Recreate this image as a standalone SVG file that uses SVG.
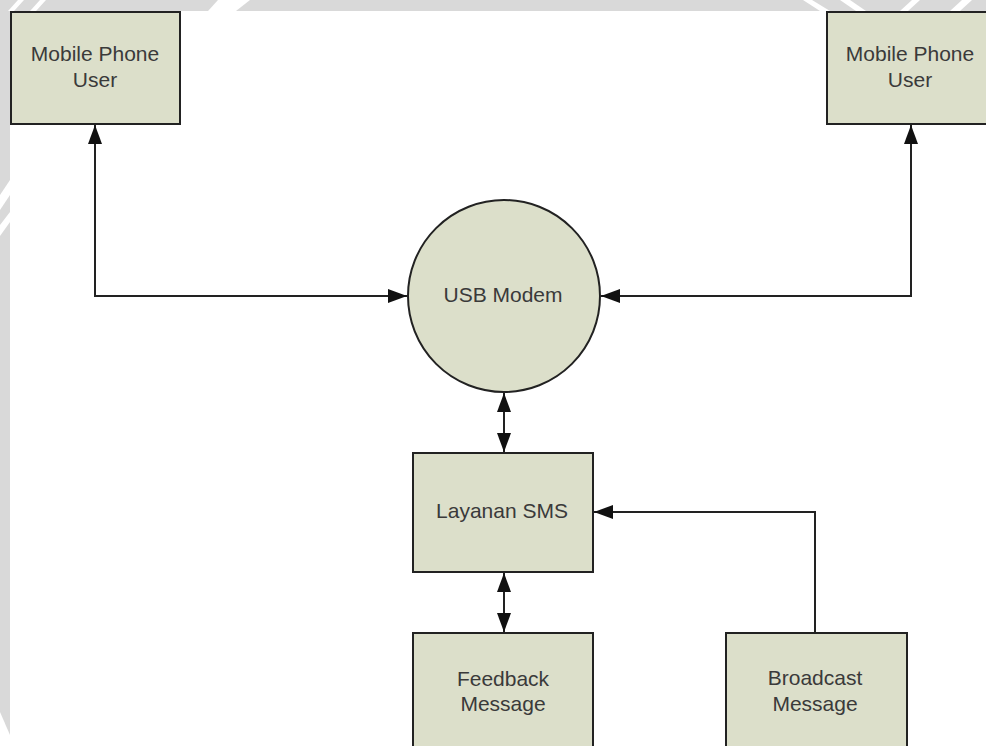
<svg xmlns="http://www.w3.org/2000/svg" width="986" height="746" viewBox="0 0 986 746">
  <style>
    .node { fill: #dcdfca; stroke: #222; stroke-width: 2; }
    .label { font-family: "Liberation Sans", Arial, sans-serif; font-size: 21px; fill: #3a3a3a; text-anchor: middle; }
    .wire { fill: none; stroke: #222; stroke-width: 2; }
    .mark { fill: #d9d9d9; }
    .cut { fill: #ffffff; }
  </style>
  <defs>
    <marker id="arrow" viewBox="0 0 19 14" refX="19" refY="7" markerWidth="19" markerHeight="14" markerUnits="userSpaceOnUse" orient="auto-start-reverse">
      <path d="M0,0 L19,7 L0,14 Z" fill="#111"/>
    </marker>
  </defs>

  <rect width="986" height="746" fill="#ffffff"/>

  <!-- faint background band along the top and left edges -->
  <g id="backdrop">
    <rect class="mark" x="0" y="0" width="986" height="11"/>
    <polygon class="mark" points="0,0 10,0 10,735 0,712"/>
    <polygon class="cut" points="8,11 18,0 24,0 14,11"/>
    <polygon class="cut" points="30,11 40,0 46,0 36,11"/>
    <polygon class="cut" points="208,11 218,0 250,0 236,11"/>
    <polygon class="cut" points="803,0 812,0 830,11 820,11"/>
    <polygon class="cut" points="840,0 850,0 866,11 856,11"/>
    <polygon class="cut" points="900,11 912,0 920,0 908,11"/>
    <polygon class="cut" points="950,11 962,0 972,0 960,11"/>
    <polygon class="cut" points="0,195 10,180 10,195 0,210"/>
    <polygon class="cut" points="0,225 10,212 10,222 0,236"/>
  </g>

  <g id="connectors">
    <!-- left phone user <-> modem -->
    <path class="wire" d="M95,125 V296 H407" marker-start="url(#arrow)" marker-end="url(#arrow)"/>
    <!-- right phone user <-> modem -->
    <path class="wire" d="M911,125 V296 H601" marker-start="url(#arrow)" marker-end="url(#arrow)"/>
    <!-- modem <-> SMS service -->
    <path class="wire" d="M504,393 V452" marker-start="url(#arrow)" marker-end="url(#arrow)"/>
    <!-- SMS service <-> feedback -->
    <path class="wire" d="M504,573 V632" marker-start="url(#arrow)" marker-end="url(#arrow)"/>
    <!-- broadcast -> SMS service -->
    <path class="wire" d="M815,633 V512 H594" marker-end="url(#arrow)"/>
  </g>

  <g id="user-left">
    <rect class="node" x="11" y="12" width="169" height="112"/>
    <text class="label" x="95" y="61">Mobile Phone</text>
    <text class="label" x="95" y="87">User</text>
  </g>

  <g id="user-right">
    <rect class="node" x="827" y="12" width="170" height="112"/>
    <text class="label" x="910" y="61">Mobile Phone</text>
    <text class="label" x="910" y="87">User</text>
  </g>

  <g id="usb-modem">
    <circle class="node" cx="504" cy="296" r="96"/>
    <text class="label" x="503" y="302">USB Modem</text>
  </g>

  <g id="layanan-sms">
    <rect class="node" x="413" y="453" width="180" height="119"/>
    <text class="label" x="502" y="518">Layanan SMS</text>
  </g>

  <g id="feedback-message">
    <rect class="node" x="413" y="633" width="180" height="130"/>
    <text class="label" x="503" y="686">Feedback</text>
    <text class="label" x="503" y="711">Message</text>
  </g>

  <g id="broadcast-message">
    <rect class="node" x="726" y="633" width="181" height="130"/>
    <text class="label" x="815" y="685">Broadcast</text>
    <text class="label" x="815" y="711">Message</text>
  </g>
</svg>
